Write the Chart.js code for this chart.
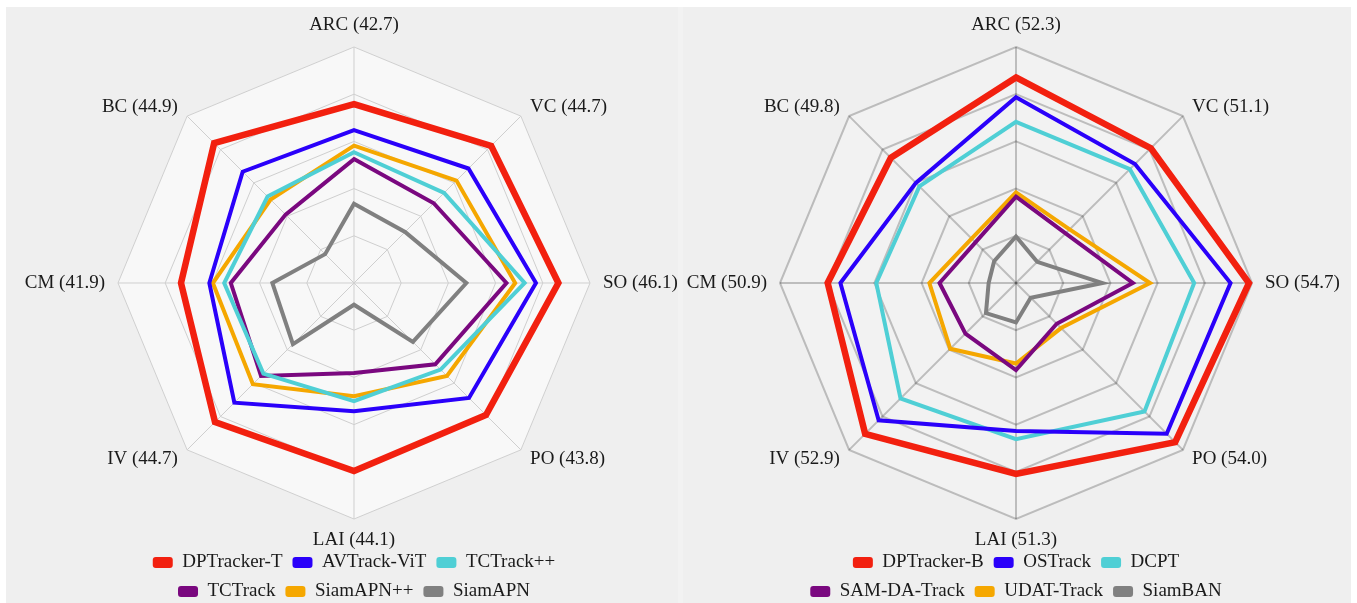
<!DOCTYPE html>
<html>
<head>
<meta charset="utf-8">
<script src="https://cdn.jsdelivr.net/npm/chart.js@4"></script>
<style>
  html, body { margin: 0; padding: 0; width: 1357px; height: 603px; overflow: hidden; background: #ffffff; }
  .bg { position: absolute; left: 6px; top: 7px; width: 1345px; height: 596px; background: #f2f2f2; }
  .panel { position: absolute; top: 7px; height: 596px; background: #efefef; }
  #pl { left: 6px; width: 672px; }
  #pr { left: 683px; width: 668px; }
  canvas { position: absolute; top: 0; }
  #cl { left: 18px; }
  #cr { left: 680px; }
</style>
</head>
<body>
<div class="bg"></div>
<div class="panel" id="pl"></div>
<div class="panel" id="pr"></div>
<canvas id="cl" width="672" height="611"></canvas>
<canvas id="cr" width="672" height="611"></canvas>
<script>
// Axes (attributes), clockwise from the top
const axes = ['ARC', 'VC', 'SO', 'PO', 'LAI', 'IV', 'CM', 'BC'];

// Scores printed next to each attribute
const leftAxisScores  = [42.7, 44.7, 46.1, 43.8, 44.1, 44.7, 41.9, 44.9];
const rightAxisScores = [52.3, 51.1, 54.7, 54.0, 51.3, 52.9, 50.9, 49.8];

// Left chart series (radial position, % of outer ring)
const leftNames = ['DPTracker-T', 'AVTrack-ViT', 'TCTrack++', 'TCTrack', 'SiamAPN++', 'SiamAPN'];
const dptrackerT = [75.8, 82.2, 86.6, 79.1, 79.7, 83.3, 73.3, 83.8];
const avtrackVit = [64.8, 68.6, 77.1, 68.9, 54.3, 71.7, 61.3, 66.7];
const tctrackPP  = [55.4, 54.0, 72.3, 51.9, 50.1, 54.3, 55.0, 51.8];
const tctrack    = [52.5, 47.8, 64.6, 48.7, 38.1, 55.7, 52.2, 41.0];
const siamapnPP  = [58.2, 61.4, 68.3, 55.7, 48.0, 60.6, 59.8, 50.0];
const siamapn    = [33.6, 30.6, 47.6, 35.3,  9.2, 36.6, 34.6, 17.3];

// Right chart series (radial position, % of outer ring)
const rightNames = ['DPTracker-B', 'OSTrack', 'DCPT', 'SAM-DA-Track', 'UDAT-Track', 'SiamBAN'];
const dptrackerB = [87.1, 80.8, 98.7, 95.4, 80.9, 90.4, 79.8, 75.0];
const ostrack    = [78.7, 71.3, 90.9, 90.3, 62.7, 82.3, 74.4, 60.0];
const dcpt       = [68.3, 68.2, 75.5, 77.0, 66.2, 69.2, 59.2, 57.9];
const samDaTrack = [36.6, 29.7, 49.5, 24.4, 36.9, 30.3, 32.4, 24.3];
const udatTrack  = [38.4, 32.1, 56.8, 27.0, 34.1, 39.4, 36.7, 26.6];
const siamban    = [19.7, 12.7, 36.6,  8.8, 16.7, 18.0, 11.6, 13.1];

const colors = ['#f2200f', '#2a00fa', '#4fcfd5', '#7a087f', '#f5a700', '#808080'];
const widths = [6.5, 4, 4, 4, 4, 4];

Chart.defaults.font.family = '"Liberation Serif", "Times New Roman", serif';
Chart.defaults.color = '#1a1a1a';

const axisLabelPlugin = {
  id: 'axisLabels',
  afterDraw(chart) {
    const s = chart.scales.r;
    const ctx = chart.ctx;
    ctx.save();
    ctx.font = '19px "Liberation Serif"';
    ctx.fillStyle = '#1a1a1a';
    ctx.textBaseline = 'middle';
    chart.data.labels.forEach((lab, i) => {
      const p = s.getPointPosition(i, s.drawingArea + 13);
      const dx = p.x - s.xCenter;
      let dy = 0;
      if (Math.abs(dx) < 1) {
        ctx.textAlign = 'center';
        dy = p.y < s.yCenter ? -9 : 8;
      } else {
        ctx.textAlign = dx > 0 ? 'left' : 'right';
      }
      ctx.fillText(lab, p.x, p.y + dy);
    });
    ctx.restore();
  }
};

function makeChart(id, scores, names, series, gridOpts) {
  const labels = axes.map((a, i) => a + ' (' + scores[i].toFixed(1) + ')');
  return new Chart(document.getElementById(id), {
    type: 'radar',
    data: {
      labels: labels,
      datasets: series.map((d, i) => ({
        label: names[i],
        data: d,
        borderColor: colors[i],
        backgroundColor: colors[i],
        borderWidth: widths[i],
        fill: false,
        tension: 0,
        pointRadius: 0,
        pointHoverRadius: 0,
        borderJoinStyle: 'miter'
      }))
    },
    options: {
      responsive: false,
      animation: false,
      devicePixelRatio: 1,
      layout: { padding: { top: 23, left: 100, right: 100, bottom: 0 } },
      scales: {
        r: {
          min: 0, max: 100,
          backgroundColor: gridOpts.fill,
          ticks: { display: false, stepSize: 20 },
          pointLabels: { display: false },
          grid: { color: gridOpts.color, lineWidth: gridOpts.width },
          angleLines: { color: gridOpts.color, lineWidth: gridOpts.width }
        }
      },
      plugins: {
        tooltip: { enabled: false },
        legend: {
          position: 'bottom',
          labels: {
            boxWidth: 20,
            boxHeight: 11,
            padding: 10,
            color: '#1a1a1a',
            font: { size: 19, family: '"Liberation Serif"' },
            generateLabels(chart) {
              const items = Chart.defaults.plugins.legend.labels.generateLabels(chart);
              items.forEach(it => { it.fillStyle = it.strokeStyle; it.lineWidth = 0; it.borderRadius = 3; });
              return items;
            }
          }
        }
      }
    },
    plugins: [axisLabelPlugin]
  });
}

makeChart('cl', leftAxisScores, leftNames,
  [dptrackerT, avtrackVit, tctrackPP, tctrack, siamapnPP, siamapn],
  { fill: '#f8f8f8', color: '#cfcfcf', width: 1 });
makeChart('cr', rightAxisScores, rightNames,
  [dptrackerB, ostrack, dcpt, samDaTrack, udatTrack, siamban],
  { fill: '#f2f2f2', color: 'rgba(0,0,0,0.22)', width: 2 });
</script>
</body>
</html>
